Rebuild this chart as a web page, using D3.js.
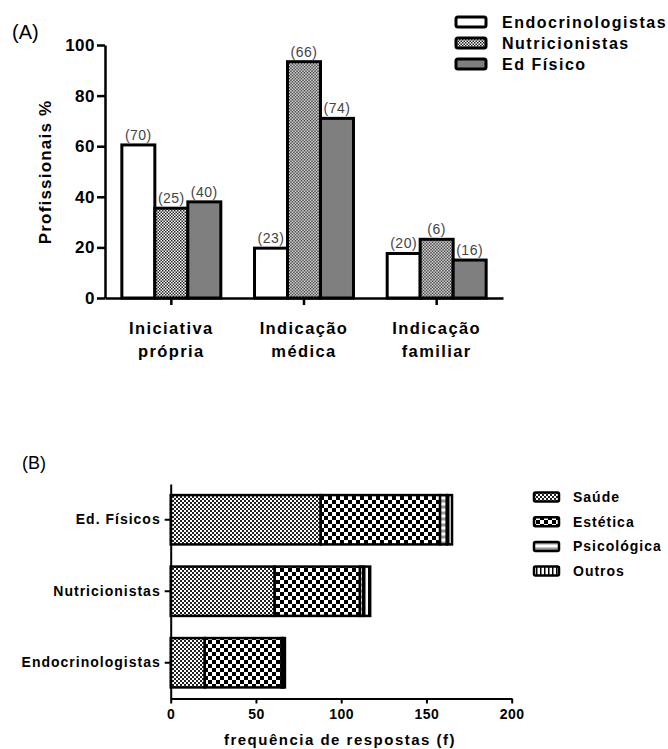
<!DOCTYPE html>
<html><head><meta charset="utf-8">
<script src="https://cdn.jsdelivr.net/npm/d3@7"></script>
<style>
body{margin:0;background:#fff;}
text{font-family:"Liberation Sans",Arial,sans-serif;fill:#000;}
</style></head>
<body><svg id="c" width="668" height="749"></svg>
<script>
// ---------- DATA ----------
const catsA = ["Iniciativa própria","Indicação médica","Indicação familiar"];
const catLinesA = [["Iniciativa","própria"],["Indicação","médica"],["Indicação","familiar"]];
const seriesA = ["Endocrinologistas","Nutricionistas","Ed Físico"];
const endoA = [60.5, 19.7, 17.6];
const nutriA = [35.5, 93.4, 23.2];
const edA = [38, 71, 15];
const countsEndo = [70, 23, 20];
const countsNutri = [25, 66, 6];
const countsEd = [40, 74, 16];
const ticksA = [0,20,40,60,80,100];

const groupsB = ["Ed. Físicos","Nutricionistas","Endocrinologistas"];
const keysB = ["Saúde","Estética","Psicológica","Outros"];
const saude = [88, 61, 20];
const estetica = [70, 50, 45];
const psicologica = [4, 2, 1];
const outros = [3, 4, 1];
const ticksB = [0,50,100,150,200];

// ---------- SETUP ----------
const svg = d3.select("#c");
const defs = svg.append("defs");
function checker(id, cell, color){
  const p = defs.append("pattern").attr("id",id).attr("patternUnits","userSpaceOnUse")
    .attr("width",cell*2).attr("height",cell*2);
  p.append("rect").attr("width",cell*2).attr("height",cell*2).attr("fill","#fff");
  p.append("rect").attr("width",cell).attr("height",cell).attr("fill",color);
  p.append("rect").attr("x",cell).attr("y",cell).attr("width",cell).attr("height",cell).attr("fill",color);
}
checker("fine",1.5,"#222");
checker("fineB",2,"#222");
checker("coarse",4,"#000");
{
  const p = defs.append("pattern").attr("id","hlines").attr("patternUnits","userSpaceOnUse").attr("width",6).attr("height",6);
  p.append("rect").attr("width",6).attr("height",6).attr("fill","#fff");
  p.append("rect").attr("width",6).attr("height",3).attr("y",1.5).attr("fill","#999");
  const q = defs.append("pattern").attr("id","vlines").attr("patternUnits","userSpaceOnUse").attr("width",4).attr("height",4);
  q.append("rect").attr("width",4).attr("height",4).attr("fill","#fff");
  q.append("rect").attr("width",1.5).attr("height",4).attr("fill","#000");
}
const fillA = {"Endocrinologistas":"#fff","Nutricionistas":"url(#fine)","Ed Físico":"#7f7f7f"};
const fillB = {"Saúde":"url(#fineB)","Estética":"url(#coarse)","Psicológica":"url(#hlines)","Outros":"url(#vlines)"};

// ---------- PANEL A ----------
const tableA = catsA.map((c,i)=>({cat:c, vals:[
  {s:seriesA[0], v:endoA[i], n:countsEndo[i]},
  {s:seriesA[1], v:nutriA[i], n:countsNutri[i]},
  {s:seriesA[2], v:edA[i], n:countsEd[i]}]}));

const x0 = d3.scaleBand().domain(catsA).range([105, 503]);
const x1 = d3.scaleBand().domain(seriesA).range([x0.bandwidth()*0.127, x0.bandwidth()*0.873]);
const yA = d3.scaleLinear().domain([0,100]).range([298,45]);

svg.append("text").attr("x",12).attr("y",39).attr("font-size",20).text("(A)");

const gA = svg.append("g");
const grp = gA.selectAll("g.grp").data(tableA).join("g").attr("transform",d=>`translate(${x0(d.cat)},0)`);
grp.selectAll("rect").data(d=>d.vals).join("rect")
  .attr("x",d=>x1(d.s)).attr("width",x1.bandwidth())
  .attr("y",d=>yA(d.v)).attr("height",d=>yA(0)-yA(d.v))
  .attr("fill",d=>fillA[d.s]).attr("stroke","#000").attr("stroke-width",3);
grp.selectAll("text.n").data(d=>d.vals).join("text")
  .attr("x",d=>x1(d.s)+x1.bandwidth()/2).attr("y",d=>yA(d.v)-5)
  .attr("text-anchor","middle").attr("font-size",14).attr("letter-spacing",0.5)
  .style("fill","#444").text(d=>`(${d.n})`);

const yAxA = gA.append("g").attr("transform","translate(105,0)")
  .call(d3.axisLeft(yA).tickValues(ticksA).tickSize(8).tickSizeOuter(0).tickPadding(2));
yAxA.select(".domain").attr("stroke-width",2.5);
yAxA.selectAll(".tick line").attr("stroke-width",2.5);
yAxA.selectAll(".tick text").attr("font-size",17).attr("font-weight","bold").attr("letter-spacing",0.5)
  .style("font-family",'"Liberation Sans",Arial,sans-serif').style("fill","#000");

const xAxA = gA.append("g").attr("transform","translate(0,298)")
  .call(d3.axisBottom(x0).tickSize(7).tickSizeOuter(0).tickFormat(""));
xAxA.select(".domain").attr("stroke-width",2.5);
xAxA.selectAll(".tick line").attr("stroke-width",2.5);
catsA.forEach((c,i)=>{
  catLinesA[i].forEach((ln,j)=>{
    gA.append("text").attr("x",x0(c)+x0.bandwidth()/2).attr("y",334+j*23)
      .attr("text-anchor","middle").attr("font-size",16.5).attr("font-weight","bold").attr("letter-spacing",1.4).text(ln);
  });
});
svg.append("text").attr("transform","translate(51,172) rotate(-90)").attr("text-anchor","middle")
  .attr("font-size",17).attr("font-weight","bold").attr("letter-spacing",1.2).text("Profissionais %");

// legend A
const legA = svg.append("g");
seriesA.forEach((s,i)=>{
  const cy = 22 + i*21;
  legA.append("rect").attr("x",456).attr("y",cy-5).attr("width",30).attr("height",10).attr("rx",2)
    .attr("fill",fillA[s]).attr("stroke","#000").attr("stroke-width",3);
  legA.append("text").attr("x",502).attr("y",cy+6).attr("font-size",16).attr("font-weight","bold").attr("letter-spacing",1.5).text(s);
});

// ---------- PANEL B ----------
svg.append("text").attr("x",22).attr("y",469).attr("font-size",18).text("(B)");
const tableB = groupsB.map((g,i)=>({g, "Saúde":saude[i], "Estética":estetica[i], "Psicológica":psicologica[i], "Outros":outros[i]}));
const stack = d3.stack().keys(keysB)(tableB);
const yB = d3.scaleBand().domain(groupsB).range([484,698.5]).paddingInner(0.31).paddingOuter(0.155);
const xB = d3.scaleLinear().domain([0,200]).range([170.7,511.7]);
const gB = svg.append("g");
gB.selectAll("g.layer").data(stack).join("g").attr("fill",d=>fillB[d.key])
  .selectAll("rect").data(d=>d).join("rect")
  .attr("y",d=>yB(d.data.g)).attr("height",yB.bandwidth())
  .attr("x",d=>xB(d[0])).attr("width",d=>xB(d[1])-xB(d[0]))
  .attr("stroke","#000").attr("stroke-width",2.5);

const yAxB = gB.append("g").attr("transform","translate(170.7,0)")
  .call(d3.axisLeft(yB).tickSize(6).tickSizeOuter(0).tickPadding(4));
yAxB.select(".domain").attr("stroke-width",2);
yAxB.selectAll(".tick line").attr("stroke-width",2);
yAxB.selectAll(".tick text").attr("font-size",14).attr("font-weight","bold").attr("letter-spacing",1)
  .style("font-family",'"Liberation Sans",Arial,sans-serif').style("fill","#000");

const xAxB = gB.append("g").attr("transform","translate(0,698.5)")
  .call(d3.axisBottom(xB).tickValues(ticksB).tickSize(5).tickSizeOuter(0).tickPadding(6));
xAxB.select(".domain").attr("stroke-width",2);
xAxB.selectAll(".tick line").attr("stroke-width",2);
xAxB.selectAll(".tick text").attr("font-size",14).attr("font-weight","bold").attr("letter-spacing",0.5)
  .style("font-family",'"Liberation Sans",Arial,sans-serif').style("fill","#000");
svg.append("text").attr("x",340).attr("y",745).attr("text-anchor","middle")
  .attr("font-size",15).attr("font-weight","bold").attr("letter-spacing",1.5).text("frequência de respostas (f)");

// legend B
keysB.forEach((k,i)=>{
  const cy = 497 + i*24.7;
  svg.append("rect").attr("x",534).attr("y",cy-4.5).attr("width",25).attr("height",9).attr("rx",1.5)
    .attr("fill",fillB[k]).attr("stroke","#000").attr("stroke-width",2.5);
  svg.append("text").attr("x",573).attr("y",cy+5).attr("font-size",14).attr("font-weight","bold").attr("letter-spacing",1).text(k);
});
</script></body></html>
